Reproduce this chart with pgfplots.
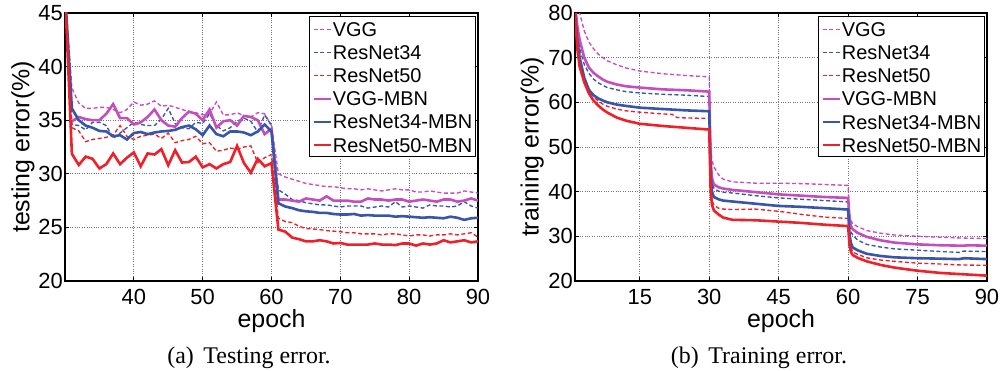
\documentclass[border=0pt]{standalone}
\usepackage{pgfplots}
\pgfplotsset{compat=1.18}
\usepackage{fontspec}
\setmainfont{Liberation Sans}
\newfontfamily\capfont{Liberation Serif}
\definecolor{colvgg}{RGB}{196,78,190}
\definecolor{colresa}{RGB}{55,85,170}
\definecolor{colresb}{RGB}{240,32,40}
\pgfplotsset{
  dsh/.style={line width=1.35bp, dash pattern=on 4bp off 2.5bp},
  sld/.style={line width=2.6bp},
  myaxis/.style={
    scale only axis, height=268bp,
    anchor=south west,
    axis line style={black, line width=1.2bp},
    grid=major,
    major grid style={black!55, dotted, line width=0.8bp},
    tick style={black, line width=0.8bp},
    major tick length=4bp,
    tick align=inside,
    /pgf/number format/assume math mode=true,
    tick label style={font=\fontsize{22}{22}\selectfont},
    xticklabel style={anchor=north, inner sep=0pt, yshift=-8bp},
    yticklabel style={anchor=east, inner sep=0pt, xshift=-2bp},
    every axis x label/.style={at={(axis description cs:0.5,0)}, anchor=base, inner sep=0pt, yshift=-46.5bp, font=\fontsize{25}{25}\selectfont},
    legend style={at={(axis description cs:1,1)}, xshift=-2bp, yshift=-3bp, anchor=north east, draw=black, line width=1.2bp, font=\fontsize{20}{20}\selectfont, inner xsep=3bp, inner ysep=1bp, row sep=1bp, column sep=1bp, nodes={inner sep=0pt, text height=19bp, text depth=3.1bp, anchor=base west}},
    legend cell align=left,
    legend image code/.code={\draw[##1] (0bp,7bp) -- (17bp,7bp);},
  },
}
\begin{document}
\begin{tikzpicture}
\path[use as bounding box] (0,0) rectangle (1001bp,371bp);
\begin{axis}[myaxis, at={(65bp,90bp)}, width=413bp,
  xmin=30, xmax=90, ymin=20, ymax=45,
  xtick={40,50,...,90}, ytick={20,25,...,45},
  xlabel={epoch},
  every axis y label/.style={at={(axis description cs:-0.102,0.5)}, rotate=90, anchor=center, inner sep=0pt, font=\fontsize{25}{25}\selectfont},
  ylabel={testing error(\%)}]
\addplot[colvgg, dsh] coordinates {(30,47) (31,38.0) (32,36.6) (33,36.1) (34,36.1) (35,36.2) (36,36.2) (37,36.0) (38,35.7) (39,36.0) (40,36.7) (41,36.4) (42,36.5) (43,36.8) (44,36.3) (45,36.4) (46,36.2) (47,36.0) (48,35.8) (49,35.7) (50,35.5) (51,35.6) (52,36.7) (53,35.5) (54,35.5) (55,35.7) (56,35.4) (57,35.3) (58,35.7) (59,35.6) (60,34.5) (61,30.0) (62,29.7) (63,29.5) (64,29.3) (65,29.1) (66,29.0) (67,28.9) (68,28.8) (69,28.8) (70,28.7) (71,28.6) (72,28.6) (73,28.5) (74,28.6) (75,28.5) (76,28.4) (77,28.5) (78,28.6) (79,28.5) (80,28.5) (81,28.3) (82,28.3) (83,28.4) (84,28.3) (85,28.2) (86,28.2) (87,28.2) (88,28.4) (89,28.3) (90,28.2)};
\addlegendentry{VGG}
\addplot[colresa, dsh] coordinates {(30,47) (31,34.6) (32,34.5) (33,34.1) (34,34.8) (35,34.8) (36,34.5) (37,33.3) (38,33.8) (39,34.3) (40,34.8) (41,34.6) (42,34.5) (43,34.5) (44,35.1) (45,36.1) (46,34.7) (47,34.3) (48,34.2) (49,34.8) (50,34.7) (51,35.6) (52,34.5) (53,34.0) (54,34.3) (55,34.9) (56,35.2) (57,34.9) (58,33.9) (59,35.5) (60,34.5) (61,28.5) (62,28.1) (63,27.6) (64,27.5) (65,27.3) (66,27.2) (67,27.1) (68,27.1) (69,27.0) (70,26.9) (71,27.0) (72,27.0) (73,27.0) (74,26.8) (75,26.9) (76,27.0) (77,26.9) (78,27.4) (79,26.9) (80,27.0) (81,26.9) (82,26.8) (83,27.1) (84,27.0) (85,27.0) (86,26.9) (87,27.0) (88,27.4) (89,27.0) (90,26.8)};
\addlegendentry{ResNet34}
\addplot[colresb, dsh] coordinates {(30,47) (31,34.3) (32,34.0) (33,33.0) (34,33.2) (35,33.3) (36,33.4) (37,33.6) (38,34.5) (39,33.5) (40,33.2) (41,33.5) (42,33.6) (43,33.7) (44,33.3) (45,33.8) (46,32.9) (47,33.1) (48,33.2) (49,33.5) (50,32.8) (51,32.9) (52,32.1) (53,32.2) (54,32.4) (55,32.3) (56,32.5) (57,32.6) (58,31.05) (59,31.5) (60,31.8) (61,25.85) (62,25.55) (63,25.45) (64,25.1) (65,24.9) (66,24.85) (67,24.8) (68,24.7) (69,24.65) (70,24.6) (71,24.5) (72,24.5) (73,24.4) (74,24.4) (75,24.4) (76,24.3) (77,24.4) (78,24.4) (79,24.3) (80,24.2) (81,24.3) (82,24.3) (83,24.2) (84,24.3) (85,24.3) (86,24.4) (87,24.3) (88,24.4) (89,24.5) (90,24.1)};
\addlegendentry{ResNet50}
\addplot[colvgg, sld] coordinates {(31,34.9) (32,35.3) (33,35.1) (34,35.0) (35,35.0) (36,35.6) (37,36.5) (38,35.2) (39,35.2) (40,34.6) (41,34.8) (42,35.3) (43,36.0) (44,35.0) (45,34.5) (46,34.4) (47,35.2) (48,35.8) (49,35.6) (50,35.0) (51,36.0) (52,34.3) (53,34.9) (54,35.0) (55,34.5) (56,35.4) (57,35.3) (58,35.0) (59,33.7) (60,34.2) (61,27.6) (62,27.6) (63,27.5) (64,27.4) (65,27.7) (66,27.6) (67,27.5) (68,27.9) (69,27.5) (70,27.5) (71,27.5) (72,27.4) (73,27.4) (74,27.7) (75,27.6) (76,27.6) (77,27.5) (78,27.6) (79,27.6) (80,27.4) (81,27.5) (82,27.6) (83,27.5) (84,27.4) (85,27.6) (86,27.6) (87,27.4) (88,27.5) (89,27.7) (90,27.5)};
\addlegendentry{VGG-MBN}
\addplot[colresa, sld] coordinates {(30,47) (31,36.1) (32,35.0) (33,34.5) (34,34.3) (35,34.0) (36,33.95) (37,33.5) (38,33.6) (39,33.2) (40,33.8) (41,33.9) (42,33.7) (43,33.85) (44,33.95) (45,34.0) (46,34.1) (47,34.35) (48,34.5) (49,34.15) (50,33.6) (51,34.5) (52,33.7) (53,33.5) (54,33.95) (55,33.95) (56,33.85) (57,33.6) (58,33.95) (59,34.6) (60,33.95) (61,27.25) (62,26.95) (63,26.8) (64,26.6) (65,26.5) (66,26.45) (67,26.35) (68,26.35) (69,26.25) (70,26.2) (71,26.2) (72,26.25) (73,26.1) (74,26.15) (75,26.1) (76,26.1) (77,26.1) (78,26.0) (79,26.05) (80,26.0) (81,25.95) (82,25.9) (83,25.95) (84,25.9) (85,25.85) (86,26.0) (87,25.9) (88,25.7) (89,25.85) (90,25.9)};
\addlegendentry{ResNet34-MBN}
\addplot[colresb, sld] coordinates {(30,47) (31,31.86) (32,30.83) (33,31.6) (34,31.4) (35,30.5) (36,30.9) (37,31.9) (38,30.9) (39,31.5) (40,32.0) (41,30.7) (42,31.9) (43,31.8) (44,32.3) (45,30.8) (46,32.2) (47,31.05) (48,31.1) (49,31.6) (50,30.6) (51,30.9) (52,30.5) (53,30.9) (54,31.1) (55,32.6) (56,31.0) (57,30.1) (58,31.4) (59,30.7) (60,31.0) (61,24.8) (62,24.6) (63,24.05) (64,23.9) (65,23.7) (66,23.7) (67,23.8) (68,23.7) (69,23.5) (70,23.55) (71,23.4) (72,23.4) (73,23.4) (74,23.4) (75,23.5) (76,23.4) (77,23.4) (78,23.35) (79,23.5) (80,23.5) (81,23.3) (82,23.5) (83,23.4) (84,23.5) (85,23.8) (86,23.6) (87,23.7) (88,23.8) (89,23.6) (90,23.7)};
\addlegendentry{ResNet50-MBN}
\end{axis}
\begin{axis}[myaxis, at={(575bp,90bp)}, width=412bp,
  xmin=1, xmax=90, ymin=20, ymax=80,
  xtick={15,30,...,90}, ytick={20,30,...,80},
  xlabel={epoch},
  every axis y label/.style={at={(axis description cs:-0.104,0.5)}, rotate=90, anchor=center, inner sep=0pt, font=\fontsize{25}{25}\selectfont},
  ylabel={training error(\%)}]
\addplot[colvgg, dsh] coordinates {(1,92) (2,80) (3,76) (4,73.5) (5,72.0) (6,70.8) (7,70.0) (8,69.3) (10,68.4) (12,67.7) (15,67.0) (20,66.4) (25,66.0) (30,65.7) (30.3,50) (30.6,47) (31,45.6) (32,43.8) (33,42.8) (35,42.2) (40,41.9) (45,41.9) (50,41.8) (55,41.6) (60,41.4) (60.3,35) (60.6,33.5) (61,32.8) (62,32.2) (64,31.3) (67,30.7) (70,30.3) (75,30.0) (80,29.8) (85,29.6) (90,29.5)};
\addlegendentry{VGG}
\addplot[colresa, dsh] coordinates {(1,82) (1.5,76) (2,72) (3,68.5) (4,66.5) (5,65.2) (6,64.4) (7,63.8) (8,63.3) (10,62.8) (12,62.4) (15,62.1) (20,61.8) (25,61.6) (30,61.3) (30.3,46) (30.6,42) (31,40.8) (32,40.1) (33,39.9) (35,39.7) (40,39.1) (45,38.6) (50,38.3) (55,38.0) (60,37.7) (60.3,32.5) (60.6,31) (61,30.3) (62,29.2) (64,28.2) (67,27.6) (70,27.2) (75,26.9) (80,26.6) (84,26.4) (85,26.7) (90,26.6)};
\addlegendentry{ResNet34}
\addplot[colresb, dsh] coordinates {(1,79) (1.5,73) (2,69) (3,65.5) (4,63.0) (5,61.3) (6,60.3) (7,59.6) (8,59.1) (10,58.5) (12,58.1) (15,57.8) (20,57.4) (22,57.3) (23,56.6) (25,56.5) (30,56.4) (30.3,42) (30.6,38) (31,37) (32,36.3) (33,36.1) (35,36.0) (40,36.1) (45,35.6) (50,34.9) (55,34.3) (60,34.0) (60.3,29) (60.6,27.5) (61,26.5) (62,26.0) (64,25.2) (67,24.7) (70,24.4) (75,24.0) (80,23.8) (84,23.6) (90,23.5)};
\addlegendentry{ResNet50}
\addplot[colvgg, sld] coordinates {(1,82) (1.5,77) (2,74) (3,70) (4,67.8) (5,66.6) (6,65.8) (7,65.1) (8,64.6) (10,64.0) (12,63.6) (15,63.3) (20,62.9) (25,62.7) (30,62.4) (30.3,47) (30.6,43) (31,41.6) (32,41.0) (33,40.7) (35,40.4) (40,39.9) (45,39.4) (50,39.1) (55,38.8) (60,38.6) (60.3,34) (60.6,32.3) (61,31.6) (62,30.8) (64,29.9) (67,29.1) (70,28.6) (75,28.2) (80,28.0) (85,27.9) (86,28.0) (90,27.9)};
\addlegendentry{VGG-MBN}
\addplot[colresa, sld] coordinates {(1,80) (1.5,74) (2,70) (3,65.5) (4,62.8) (5,61.6) (6,60.9) (7,60.4) (8,60.0) (10,59.5) (12,59.2) (15,58.8) (20,58.5) (25,58.2) (30,58.0) (30.3,44) (30.6,40) (31,38.8) (32,38.3) (33,38.0) (35,37.8) (40,37.3) (45,36.8) (50,36.6) (55,36.3) (60,36.0) (60.3,30.5) (60.6,28.5) (61,27.5) (62,26.9) (64,26.1) (67,25.6) (70,25.3) (75,25.1) (80,25.0) (84,24.9) (85,25.1) (90,24.9)};
\addlegendentry{ResNet34-MBN}
\addplot[colresb, sld] coordinates {(1,80) (1.5,72) (2,68) (3,64.5) (4,62.0) (5,60.4) (6,59.3) (7,58.4) (8,57.7) (10,56.6) (12,55.9) (15,55.2) (20,54.7) (25,54.3) (30,53.9) (30.3,40) (30.6,37) (31,35.8) (32,34.9) (33,34.2) (35,33.7) (40,33.6) (45,33.3) (50,33.0) (55,32.6) (60,32.3) (60.3,28) (60.6,26.5) (61,25.8) (62,25.2) (64,24.4) (67,23.6) (70,23.0) (75,22.3) (80,21.8) (85,21.5) (90,21.2)};
\addlegendentry{ResNet50-MBN}
\end{axis}
\node[anchor=base, inner sep=0pt, font=\capfont\fontsize{24}{24}\selectfont] at (249bp,8bp) {(a)\hspace{0.4em}Testing error.};
\node[anchor=base, inner sep=0pt, font=\capfont\fontsize{24}{24}\selectfont] at (759bp,8bp) {(b)\hspace{0.4em}Training error.};
\end{tikzpicture}
\end{document}
